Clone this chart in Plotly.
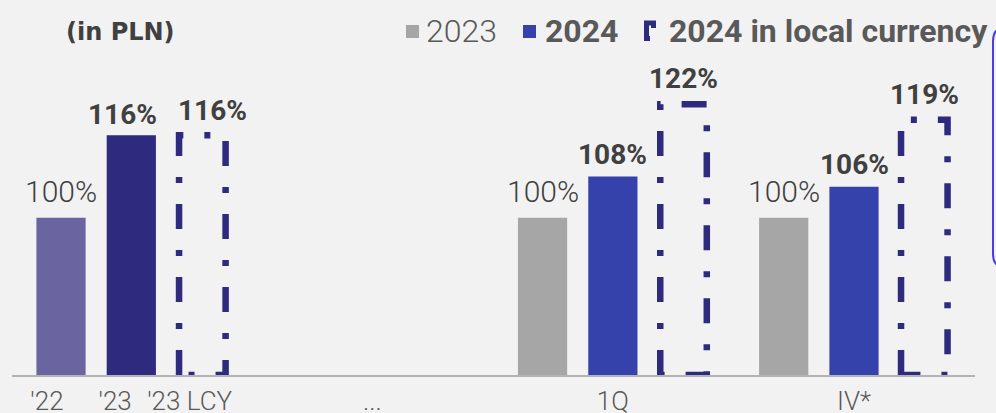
import plotly.graph_objects as go

# ---------------- data ----------------
hist_labels = ["'22", "'23"]
hist_values = [100, 116]
hist_lcy_label = "'23 LCY"
hist_lcy_value = 116

quarters = ["1Q", "IV*"]
values_2023 = [100, 100]
values_2024 = [108, 106]
values_2024_lcy = [122, 119]

gap_label = "..."
unit_note = "(in PLN)"
legend_names = ["2023", "2024", "2024 in local currency"]

# ---------------- layout / style ----------------
W, H = 996, 413
MB = 38                      # bottom margin, plot area is 996 x 375
PH = H - MB
Y_FLOOR = 69.5               # value at the baseline
PX_PER_PCT = 5.155
Y_TOP = Y_FLOOR + PH / PX_PER_PCT
X_RANGE = [-0.868, 13.30]

hist_x = [0.0, 1.0]
hist_lcy_x = 2.01
q2023_x = [6.85, 10.28]
q2024_x = [7.85, 11.28]
qlcy_x = [8.855, 12.28]
tick_x = [-0.2, 0.77, 1.83, 4.43, 7.85, 11.28]

BAR_W = 0.70
LCY_HALF = 0.331

C_BG = "#f2f2f2"
C_22 = "#6a65a0"
C_23 = "#2e2a7e"
C_GRAY = "#a6a6a6"
C_BLUE = "#3642ab"
C_DASH = "#2e2a7e"
C_TXT = "#404040"
C_TICK = "#595959"
C_BOX = "#4a3ce6"
DASH = "25px,21px,6px,21px"

FONT = "Roboto"


def px_x(px):
    return px / W


def px_y(py):
    return (PH - py) / PH


fig = go.Figure()

# solid bars
fig.add_trace(go.Bar(x=hist_x, y=hist_values, width=BAR_W,
                     marker=dict(color=[C_22, C_23], line=dict(width=0)),
                     showlegend=False))
fig.add_trace(go.Bar(x=q2023_x, y=values_2023, width=BAR_W,
                     marker=dict(color=C_GRAY, line=dict(width=0)),
                     name=legend_names[0], showlegend=False))
fig.add_trace(go.Bar(x=q2024_x, y=values_2024, width=BAR_W,
                     marker=dict(color=C_BLUE, line=dict(width=0)),
                     name=legend_names[1], showlegend=False))

# dashed outlines for local-currency values
ox, oy = [], []
for cx, v in zip([hist_lcy_x] + qlcy_x, [hist_lcy_value] + values_2024_lcy):
    ox += [cx - LCY_HALF, cx - LCY_HALF, cx + LCY_HALF, cx + LCY_HALF, cx - LCY_HALF, None]
    oy += [Y_FLOOR, v, v, Y_FLOOR, Y_FLOOR, None]
fig.add_trace(go.Scatter(x=ox, y=oy, mode="lines", connectgaps=False,
                         line=dict(color=C_DASH, width=6.5, dash=DASH),
                         cliponaxis=False, name=legend_names[2],
                         showlegend=False, hoverinfo="skip"))

# value labels
light = dict(family=FONT, size=30, color=C_TXT, weight=300)
bold = dict(family=FONT, size=28, color=C_TXT, weight=700)
ann = []


def value_label(x, v, font, shift, xshift=0):
    ann.append(dict(x=x, y=v, xref="x", yref="y", text=f"{v}%",
                    showarrow=False, yanchor="middle", yshift=shift,
                    xshift=xshift, font=font))


value_label(hist_x[0], hist_values[0], light, 26)
value_label(hist_x[1], hist_values[1], bold, 21, -9)
value_label(hist_lcy_x, hist_lcy_value, bold, 25, 10)
for x, v in zip(q2023_x, values_2023):
    value_label(x, v, light, 26)
for x, v in zip(q2024_x, values_2024):
    value_label(x, v, bold, 22.5)
for x, v in zip(qlcy_x, values_2024_lcy):
    value_label(x, v, bold, 25.5)

# unit note
ann.append(dict(x=px_x(64), y=px_y(32), xref="paper", yref="paper",
                text=f"<b>{unit_note}</b>", showarrow=False,
                xanchor="left", yanchor="middle",
                font=dict(family="DejaVu Sans", size=24, color=C_TXT)))

# legend texts
leg_y = px_y(31)
ann.append(dict(x=px_x(424), y=leg_y, xref="paper", yref="paper",
                text=legend_names[0], showarrow=False, xanchor="left",
                yanchor="middle",
                font=dict(family=FONT, size=32, color=C_TICK, weight=300)))
ann.append(dict(x=px_x(543), y=leg_y, xref="paper", yref="paper",
                text=legend_names[1], showarrow=False, xanchor="left",
                yanchor="middle",
                font=dict(family=FONT, size=32, color=C_TICK, weight=700)))
ann.append(dict(x=px_x(667), y=leg_y, xref="paper", yref="paper",
                text=legend_names[2], showarrow=False, xanchor="left",
                yanchor="middle",
                font=dict(family=FONT, size=32, color=C_TICK, weight=700)))

shapes = []
# legend swatches
for x0, col in [(406, C_GRAY), (523, C_BLUE)]:
    shapes.append(dict(type="rect", xref="paper", yref="paper",
                       x0=px_x(x0), x1=px_x(x0 + 13), y0=px_y(38), y1=px_y(25),
                       fillcolor=col, line=dict(width=0)))
icon = (f"M {px_x(646.5)},{px_y(41)} L {px_x(646.5)},{px_y(23)} "
        f"L {px_x(656)},{px_y(23)} M {px_x(653.5)},{px_y(23)} L {px_x(653.5)},{px_y(28)} "
        f"M {px_x(646.5)},{px_y(38.5)} L {px_x(650)},{px_y(38.5)}")
shapes.append(dict(type="path", xref="paper", yref="paper", path=icon,
                   line=dict(color=C_DASH, width=5)))

# baseline
shapes.append(dict(type="line", xref="paper", yref="paper",
                   x0=px_x(12), x1=px_x(975), y0=px_y(376), y1=px_y(376),
                   line=dict(color="#b4b4b4", width=2), layer="above"))

# callout frame at right edge
box = (f"M {px_x(1012)},{px_y(27)} L {px_x(1007)},{px_y(27)} "
       f"Q {px_x(993)},{px_y(27)} {px_x(993)},{px_y(41)} "
       f"L {px_x(993)},{px_y(254)} "
       f"Q {px_x(993)},{px_y(268)} {px_x(1007)},{px_y(268)} "
       f"L {px_x(1012)},{px_y(268)}")
shapes.append(dict(type="path", xref="paper", yref="paper", path=box,
                   line=dict(color=C_BOX, width=2)))

fig.update_layout(
    width=W, height=H,
    margin=dict(l=0, r=0, t=0, b=MB, pad=0, autoexpand=False),
    paper_bgcolor=C_BG, plot_bgcolor=C_BG,
    barmode="overlay", showlegend=False,
    annotations=ann, shapes=shapes,
    xaxis=dict(range=X_RANGE, showgrid=False, zeroline=False, showline=False,
               automargin=False,
               ticks="", tickmode="array", tickvals=tick_x,
               ticktext=hist_labels + [hist_lcy_label, gap_label] + quarters,
               ticklabelstandoff=8,
               tickfont=dict(family=FONT, size=26, color=C_TICK, weight=300)),
    yaxis=dict(range=[Y_FLOOR, Y_TOP], visible=False, showgrid=False,
               zeroline=False, automargin=False),
)

fig.write_html("out.html")
